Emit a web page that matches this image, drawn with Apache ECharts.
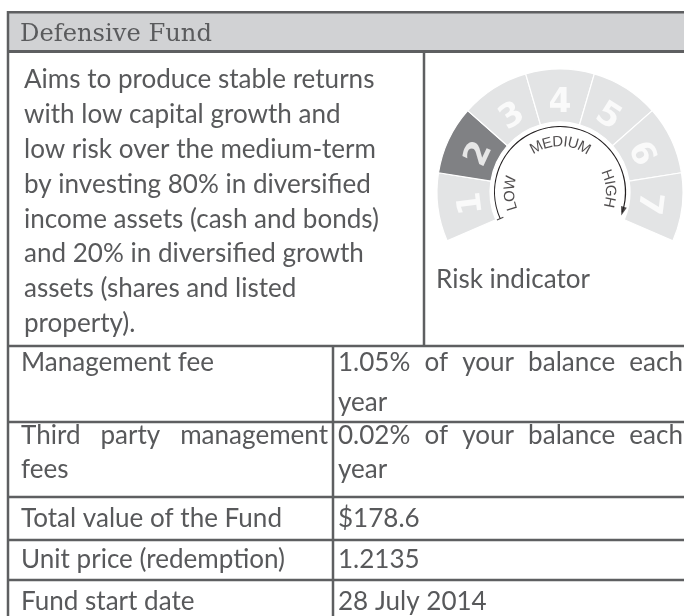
<!DOCTYPE html>
<html>
<head>
<meta charset="utf-8">
<script src="https://cdn.jsdelivr.net/npm/echarts@6/dist/echarts.min.js"></script>
<style>
html, body { margin: 0; padding: 0; background: #fff; }
#chart { width: 684px; height: 616px; }
</style>
</head>
<body>
<div id="chart"></div>
<script>
// ---- content ----
const title = 'Defensive Fund';
const descLines = [
  'Aims to produce stable returns',
  'with low capital growth and',
  'low risk over the medium-term',
  'by investing 80% in diversified',
  'income assets (cash and bonds)',
  'and 20% in diversified growth',
  'assets (shares and listed',
  'property).'
];
const riskLevels = ['1', '2', '3', '4', '5', '6', '7'];
const riskValue = 2;
const riskWords = ['LOW', 'MEDIUM', 'HIGH'];
const riskCaption = 'Risk indicator';
const rowLabels = ['Management fee', 'Third party management\nfees', 'Total value of the Fund', 'Unit price (redemption)', 'Fund start date'];
const rowValues = ['1.05% of your balance each\nyear', '0.02% of your balance each\nyear', '$178.6', '1.2135', '28 July 2014'];

// ---- layout ----
const TEXT = '#58595b';
const LINE = '#5e5f61';
const LEFT = 8, RIGHT = 684;
const rowTops = [346, 422, 497, 540, 580];
const rowBaselines = [[371, 411], [444, 478], [527], [568], [610]];
const COL_TOP = 424, COL_BOT = 333;
const CX = 560, CY = 192;
const START = 203.4, END = -23.4;
const wordCentres = [181.5, 89.5, 4];

const ctx = document.createElement('canvas').getContext('2d');
function textW(t, font) { ctx.font = font; return ctx.measureText(t).width; }

const bodySize = 100 * 261 / textW('Total value of the Fund', '100px Lato');
const bodyFont = bodySize.toFixed(2) + 'px Lato';
const headSize = 100 * 192 / textW(title, '100px "DejaVu Serif"');
const headFont = headSize.toFixed(2) + 'px "DejaVu Serif"';

const g = [];
function txt(t, x, base, font, size, color) {
  g.push({ type: 'text', x: x, y: base - 0.33 * size, silent: true,
    style: { text: t, font: font, fill: color, align: 'left', verticalAlign: 'middle' } });
}
function justified(t, x0, x1, base) {
  const words = t.split(' ');
  const ws = words.map(w => textW(w, bodyFont));
  const gap = (x1 - x0 - ws.reduce((a, b) => a + b, 0)) / (words.length - 1);
  let x = x0;
  words.forEach((w, i) => { txt(w, x, base, bodyFont, bodySize, TEXT); x += ws[i] + gap; });
}
function hline(y, x1, x2, w) { g.push({ type: 'line', silent: true, shape: { x1: x1, y1: y, x2: x2, y2: y }, style: { stroke: LINE, lineWidth: w || 2.5 } }); }
function vline(x, y1, y2) { g.push({ type: 'line', silent: true, shape: { x1: x, y1: y1, x2: x, y2: y2 }, style: { stroke: LINE, lineWidth: 2.5 } }); }

// header
g.push({ type: 'rect', silent: true, shape: { x: LEFT, y: 12, width: RIGHT - LEFT, height: 40 }, style: { fill: '#d1d2d4' } });
hline(12.2, LEFT - 1, RIGHT, 2.4);
hline(51.5, LEFT - 1, RIGHT, 2.8);
txt(title, 20, 42.3, headFont, headSize, '#5a5b5d');

// description cell
descLines.forEach((l, i) => txt(l, 24, 88.5 + i * 34.8, bodyFont, bodySize, TEXT));
txt(riskCaption, 436, 288, bodyFont, bodySize, TEXT);
vline(COL_TOP, 51.5, rowTops[0]);

// fee rows
rowTops.forEach(y => hline(y, LEFT - 1, RIGHT));
vline(COL_BOT, rowTops[0], 616);
vline(LEFT, 11, 616);
rowLabels.forEach((lab, r) => {
  const lines = lab.split('\n');
  lines.forEach((l, k) => {
    if (k < lines.length - 1) justified(l, 21, 328, rowBaselines[r][k]);
    else txt(l, 21, rowBaselines[r][k], bodyFont, bodySize, TEXT);
  });
});
rowValues.forEach((val, r) => {
  const lines = val.split('\n');
  lines.forEach((l, k) => {
    if (k < lines.length - 1) justified(l, 338, 683, rowBaselines[r][k]);
    else txt(l, 338, rowBaselines[r][k], bodyFont, bodySize, TEXT);
  });
});

// risk segments and their numbers
const step = (START - END) / riskLevels.length;
const segData = riskLevels.map(n => ({
  name: n, value: 1,
  itemStyle: { color: Number(n) === riskValue ? '#808184' : '#e3e4e5' }
}));
const digitData = riskLevels.map((n, i) => {
  const mid = START - step * (i + 0.5);
  return { name: n, value: [89, (mid + 360) % 360], label: { rotate: mid - 90 } };
});

// curved LOW / MEDIUM / HIGH letters
const letterFont = '15px "Liberation Sans"';
const TR = 50;
const letterData = [];
riskWords.forEach((w, wi) => {
  const ws = w.split('').map(c => textW(c, letterFont) + 0.6);
  const total = ws.reduce((a, b) => a + b, 0);
  let s = -total / 2;
  w.split('').forEach((c, ci) => {
    const mid = s + ws[ci] / 2;
    const ang = wordCentres[wi] - mid / 52 * 180 / Math.PI;
    letterData.push({ name: c, value: [TR, (ang + 360) % 360], label: { rotate: ang - 90 } });
    s += ws[ci];
  });
});

const chart = echarts.init(document.getElementById('chart'));
chart.setOption({
  animation: false,
  graphic: { elements: g },
  polar: { center: [CX, CY], radius: 123 },
  angleAxis: { type: 'value', min: 0, max: 360, startAngle: 0, clockwise: false, show: false },
  radiusAxis: { type: 'value', min: 0, max: 123, show: false },
  series: [
    {
      type: 'pie', center: [CX, CY], radius: [70, 123],
      startAngle: START, endAngle: END, clockwise: true, silent: true,
      itemStyle: { borderColor: '#fff', borderWidth: 1.2 },
      label: { show: false }, labelLine: { show: false },
      data: segData
    },
    {
      type: 'scatter', coordinateSystem: 'polar', silent: true, z: 5,
      symbolSize: 0.1, itemStyle: { color: 'rgba(0,0,0,0)' },
      label: { show: true, position: 'inside', formatter: '{b}', color: '#fff', fontFamily: 'DejaVu Sans', fontWeight: 'bold', fontSize: 33 },
      data: digitData
    },
    {
      type: 'gauge', center: [CX, CY], radius: 66, startAngle: 204, endAngle: -18,
      min: 0, max: 1, silent: true,
      axisLine: { lineStyle: { width: 1.1, color: [[1, '#231f20']] } },
      splitLine: { show: false }, axisTick: { show: false }, axisLabel: { show: false },
      pointer: { show: false }, anchor: { show: false }, title: { show: false },
      detail: { show: false }, progress: { show: false },
      data: [{ value: 0 }]
    },
    {
      type: 'scatter', coordinateSystem: 'polar', silent: true,
      symbolSize: 0.1, itemStyle: { color: 'rgba(0,0,0,0)' },
      label: { show: true, position: 'inside', formatter: '{b}', color: '#231f20', fontSize: 15, fontFamily: 'Liberation Sans' },
      data: letterData
    },
    {
      type: 'scatter', coordinateSystem: 'polar', silent: true,
      itemStyle: { color: '#231f20' },
      data: [
        { value: [65.5, 342.9], symbol: 'triangle', symbolSize: [6, 9], symbolRotate: 162.9 },
        { value: [65.5, 204], symbol: 'rect', symbolSize: [7, 1.2], symbolRotate: 204 }
      ]
    }
  ]
});
</script>
</body>
</html>
